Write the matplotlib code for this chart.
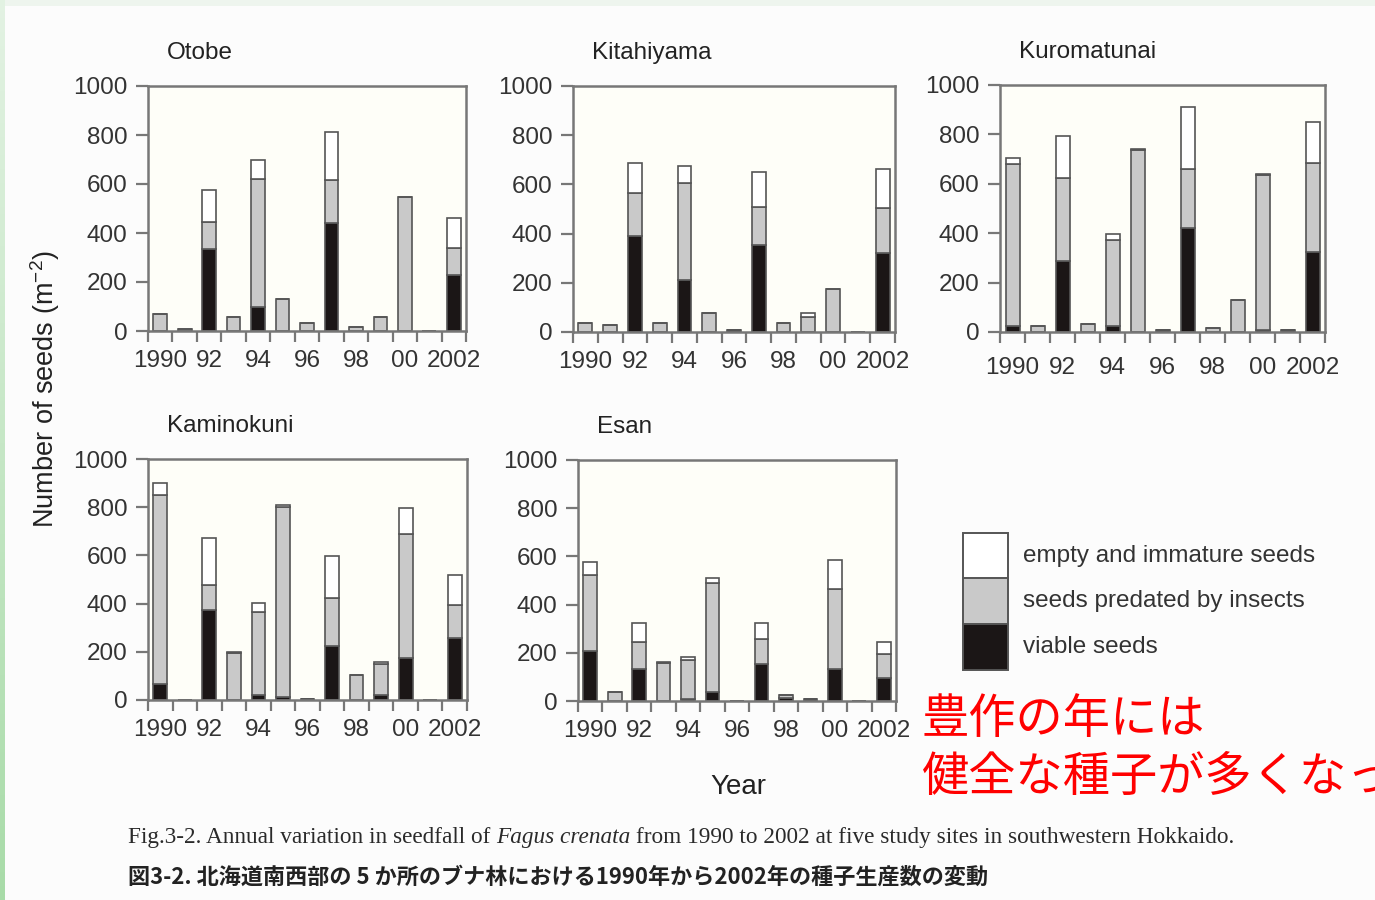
import numpy as np
import matplotlib.pyplot as plt

plt.rcParams['font.family'] = ['Liberation Sans', 'DejaVu Sans']
plt.rcParams['mathtext.fontset'] = 'custom'
plt.rcParams['mathtext.rm'] = 'Liberation Sans'
plt.rcParams['mathtext.it'] = 'Liberation Sans:italic'

W, H = 1375, 900

years = list(range(1990, 2003))
year_labels = ['1990', '92', '94', '96', '98', '00', '2002']
series_names = ['empty and immature seeds', 'seeds predated by insects', 'viable seeds']

# seeds per m2 for each year 1990-2002: viable / predated by insects / empty and immature
otobe_viable = [0, 0, 333, 0, 99, 0, 0, 439, 0, 0, 0, 0, 230]
otobe_predated = [68, 10, 111, 57, 521, 131, 31, 177, 18, 57, 548, 0, 107]
otobe_empty = [0, 0, 131, 0, 78, 0, 0, 196, 0, 0, 0, 0, 123]

kita_viable = [0, 0, 390, 0, 210, 0, 7, 352, 0, 0, 0, 0, 322]
kita_predated = [38, 27, 176, 38, 397, 77, 0, 156, 36, 63, 173, 0, 182]
kita_empty = [0, 0, 121, 0, 66, 0, 0, 141, 0, 14, 0, 0, 157]

kuro_viable = [26, 0, 286, 0, 26, 0, 9, 420, 0, 0, 9, 9, 322]
kuro_predated = [653, 23, 337, 32, 347, 737, 0, 239, 15, 128, 627, 0, 363]
kuro_empty = [24, 0, 171, 0, 25, 3, 0, 253, 0, 0, 4, 0, 164]

kami_viable = [66, 0, 374, 0, 22, 11, 4, 225, 0, 19, 174, 0, 256]
kami_predated = [785, 0, 104, 196, 343, 791, 0, 200, 102, 131, 515, 0, 139]
kami_empty = [51, 0, 195, 4, 38, 6, 0, 173, 3, 9, 109, 0, 123]

esan_viable = [207, 0, 133, 0, 7, 39, 0, 152, 11, 7, 134, 0, 97]
esan_predated = [315, 36, 113, 158, 163, 450, 0, 104, 14, 0, 330, 0, 99]
esan_empty = [55, 0, 76, 5, 11, 23, 0, 66, 0, 0, 123, 0, 50]

# site name, (left, top, right, bottom) in pixels, stacks
sites = [
    ('Otobe', (148, 86, 466, 331), otobe_viable, otobe_predated, otobe_empty),
    ('Kitahiyama', (573, 86, 895, 332), kita_viable, kita_predated, kita_empty),
    ('Kuromatunai', (1000, 85, 1325, 332), kuro_viable, kuro_predated, kuro_empty),
    ('Kaminokuni', (148, 459, 467, 700), kami_viable, kami_predated, kami_empty),
    ('Esan', (578, 460, 896, 701), esan_viable, esan_predated, esan_empty),
]

BLACK = '#1b1616'
GREY = '#c9c9c9'
WHITE = '#ffffff'
EDGE = '#555555'
SPINE = '#777777'
TEXT = '#333333'

fig = plt.figure(figsize=(W / 100, H / 100), dpi=100, facecolor='#fcfcfc')

# pixel-space canvas for backdrop, titles, legend and captions
bg = fig.add_axes([0, 0, 1, 1])
bg.set_xlim(0, W)
bg.set_ylim(H, 0)
bg.axis('off')

bg.add_patch(plt.Rectangle((0, 0), W, 6, color='#eef5ee', lw=0))
grad = np.linspace(0, 1, 256)[:, None, None]
top_c = np.array([0.89, 0.95, 0.89])
bot_c = np.array([0.66, 0.86, 0.66])
bg.imshow(top_c + grad * (bot_c - top_c), extent=(0, 5, H, 0), aspect='auto', zorder=1)
bg.set_xlim(0, W)
bg.set_ylim(H, 0)


def px_rect(left, top, right, bottom):
    return [left / W, 1 - bottom / H, (right - left) / W, (bottom - top) / H]


x = np.arange(len(years))
for name, rect, viable, predated, empty in sites:
    ax = fig.add_axes(px_rect(*rect), facecolor='#fefef8')
    viable = np.array(viable)
    predated = np.array(predated)
    empty = np.array(empty)
    kw = dict(width=0.56, edgecolor=EDGE, linewidth=1.2)
    ax.bar(x, viable, color=BLACK, **kw)
    ax.bar(x, predated, bottom=viable, color=GREY, **kw)
    ax.bar(x, empty, bottom=viable + predated, color=WHITE, **kw)

    ax.set_xlim(-0.5, len(years) - 0.5)
    ax.set_ylim(0, 1000)
    ax.set_yticks(range(0, 1001, 200))
    ax.set_xticks(x[::2])
    ax.set_xticklabels(year_labels)
    ax.set_xticks(np.arange(-0.5, len(years), 1.0), minor=True)
    pad_x = 10 if name == 'Kuromatunai' else 6
    ax.tick_params(axis='x', which='major', length=0, pad=pad_x + 8,
                   labelsize=17.5, labelcolor=TEXT)
    ax.tick_params(axis='x', which='minor', length=8, width=1.6, color=SPINE,
                   direction='out')
    ax.tick_params(axis='y', length=9, width=1.6, color=SPINE, pad=6,
                   labelsize=17.5, labelcolor=TEXT)
    for sp in ax.spines.values():
        sp.set_color(SPINE)
        sp.set_linewidth(1.8)
    bg.text(rect[0] + 19, rect[1] - 33, name, fontsize=17.5, color='#222222',
            va='center', ha='left')

fig.text(45 / W, 1 - 389 / H, 'Number of seeds (m$^{-2}$)', rotation=90,
         fontsize=19.5, color='#222222', ha='center', va='center')
bg.text(738, 787, 'Year', fontsize=20, color='#222222', ha='center', va='center')

# legend: stacked swatches with labels
swatch = [(533, WHITE), (578, GREY), (624, BLACK)]
for (y0, col), label in zip(swatch, series_names):
    bg.add_patch(plt.Rectangle((963, y0), 45, 46, facecolor=col, edgecolor=EDGE,
                               lw=1.4, zorder=3))
    bg.text(1023, y0 + 23, label, fontsize=17.5, color=TEXT, va='center', ha='left')

# red annotation, second line runs off the right edge
bg.text(922, 720, '豊作の年には', fontsize=34, color='#ff0000',
        family=['Noto Sans CJK JP'], va='center', ha='left')
bg.text(922, 778, '健全な種子が多くなった', fontsize=34, color='#ff0000',
        family=['Noto Sans CJK JP'], va='center', ha='left')

# captions
cap_parts = [('Fig.3-2. Annual variation in seedfall of', 'normal'),
             ('Fagus crenata', 'italic'),
             ('from 1990 to 2002 at five study sites in southwestern Hokkaido.', 'normal')]
cap_texts = [bg.text(0, 838, s, fontsize=15, style=st, family=['Liberation Serif'],
                     color='#2a2a2a', va='center', ha='left') for s, st in cap_parts]
cap_jp = bg.text(128, 877, '図3-2. 北海道南西部の 5 か所のブナ林における1990年から2002年の種子生産数の変動',
                 fontsize=15, weight='bold', family=['Noto Sans CJK JP'],
                 color='#222222', va='center', ha='left')

fig.canvas.draw()
renderer = fig.canvas.get_renderer()


def place_caption(size):
    for t in cap_texts:
        t.set_fontsize(size)
    gap = 0.25 * size * 100 / 72
    pos = 128
    for t in cap_texts:
        t.set_x(pos)
        bb = t.get_window_extent(renderer)
        pos += bb.width + gap
    return pos - gap - 128


width = place_caption(15)
place_caption(15 * 1110 / width)

bb = cap_jp.get_window_extent(renderer)
cap_jp.set_fontsize(15 * 862 / bb.width)

fig.savefig('out.png', dpi=100, facecolor=fig.get_facecolor())
